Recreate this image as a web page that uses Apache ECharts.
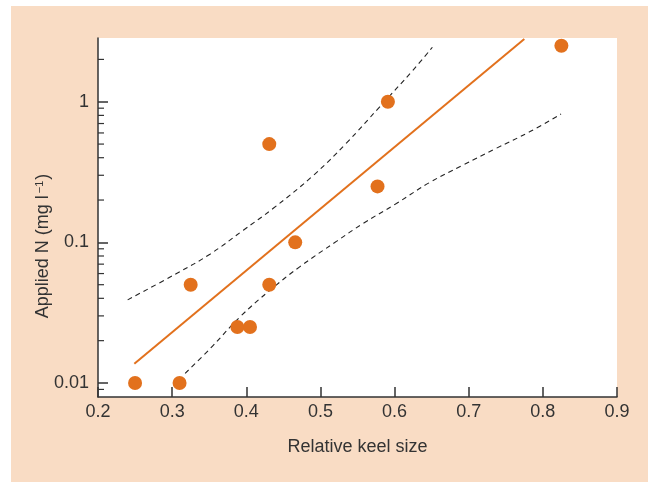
<!DOCTYPE html>
<html><head><meta charset="utf-8">
<script src="https://cdn.jsdelivr.net/npm/echarts@6/dist/echarts.min.js"></script>
<style>
html,body{margin:0;padding:0;background:#fff;}
#wrap{position:relative;width:648px;height:482px;overflow:hidden;}
#bg{position:absolute;left:11px;top:6px;right:0;bottom:0;background:#f9dcc4;}
#chart{position:absolute;left:0;top:0;width:648px;height:482px;}
</style></head><body>
<div id="wrap"><div id="bg"></div><div id="chart"></div></div>
<script>
// Observed points
const keelSize = [0.25, 0.31, 0.325, 0.388, 0.405, 0.431, 0.431, 0.466, 0.577, 0.591, 0.825];
const appliedN = [0.01, 0.01, 0.05, 0.025, 0.025, 0.05, 0.5, 0.1, 0.25, 1.0, 2.5];
// Regression line
const fitX = [0.249, 0.775];
const fitY = [0.0137, 2.79];
// Upper confidence band
const upperX = [0.240, 0.306, 0.351, 0.396, 0.436, 0.490, 0.535, 0.580, 0.625, 0.651];
const upperY = [0.0390, 0.0601, 0.0824, 0.122, 0.174, 0.298, 0.508, 0.921, 1.68, 2.44];
// Lower confidence band
const lowerX = [0.3175, 0.351, 0.3915, 0.432, 0.472, 0.522, 0.5575, 0.6025, 0.647, 0.692, 0.737, 0.782, 0.8245];
const lowerY = [0.0117, 0.0175, 0.0295, 0.0457, 0.067, 0.1020, 0.1363, 0.189, 0.266, 0.354, 0.466, 0.611, 0.818];
// Axes
const xMin = 0.2, xMax = 0.9, xStep = 0.1;
const yMin = 0.00795, yMax = 2.84;
const yMinorTicks = [0.009, 0.02, 0.03, 0.04, 0.05, 0.06, 0.07, 0.08, 0.09,
  0.2, 0.3, 0.4, 0.5, 0.6, 0.7, 0.8, 0.9, 2];

const zip = (a, b) => a.map((v, i) => [v, b[i]]);
const orange = '#e2711d';
const ink = '#333333';
const font = '"Liberation Sans", Arial, sans-serif';

const chart = echarts.init(document.getElementById('chart'), null, {renderer: 'canvas'});
chart.setOption({
  backgroundColor: 'transparent',
  animation: false,
  grid: {left: 98, right: 31, top: 38, bottom: 85, show: true, backgroundColor: '#ffffff', borderWidth: 0},
  xAxis: {
    type: 'value', min: xMin, max: xMax, interval: xStep,
    name: 'Relative keel size', nameLocation: 'middle', nameGap: 41,
    nameTextStyle: {fontFamily: font, fontSize: 18, color: ink},
    axisLine: {show: true, lineStyle: {color: ink, width: 1.5}},
    axisTick: {show: true, inside: true, length: 10, lineStyle: {color: ink, width: 1.5}},
    axisLabel: {fontFamily: font, fontSize: 18, color: ink, margin: 6, formatter: v => v.toFixed(1)},
    splitLine: {show: false}
  },
  yAxis: {
    type: 'log', logBase: 10, min: yMin, max: yMax,
    axisLine: {show: true, lineStyle: {color: ink, width: 1.5}},
    axisTick: {show: true, inside: true, length: 10, lineStyle: {color: ink, width: 1.5}},
    axisLabel: {fontFamily: font, fontSize: 18, color: ink, margin: 9, showMinLabel: false, showMaxLabel: false,
      formatter: v => String(+v.toPrecision(3))},
    splitLine: {show: false}
  },
  graphic: [{
    type: 'text', x: 43, y: 246, rotation: Math.PI / 2,
    style: {
      text: 'Applied N (mg l{sup|−1})', fill: ink, font: '18px ' + font,
      align: 'center', verticalAlign: 'middle',
      rich: {sup: {fontSize: 11, fontFamily: font, fill: ink, verticalAlign: 'top', padding: [0, 1, 7, 2]}}
    }
  }],
  series: [
    {
      type: 'custom', silent: true, z: 5,
      data: yMinorTicks.map(v => [xMin, v]),
      renderItem: (params, api) => {
        const p = api.coord([api.value(0), api.value(1)]);
        return {type: 'line', shape: {x1: p[0], y1: p[1], x2: p[0] + 6, y2: p[1]},
          style: {stroke: ink, lineWidth: 1.2}};
      }
    },
    {
      type: 'line', data: zip(upperX, upperY), showSymbol: false, symbol: 'none', z: 3, smooth: 0.4,
      lineStyle: {color: '#222', width: 1.1, type: [5, 4]}
    },
    {
      type: 'line', data: zip(lowerX, lowerY), showSymbol: false, symbol: 'none', z: 3, smooth: 0.4,
      lineStyle: {color: '#222', width: 1.1, type: [5, 4]}
    },
    {
      type: 'line', data: zip(fitX, fitY), showSymbol: false, symbol: 'none', z: 4,
      lineStyle: {color: orange, width: 2}
    },
    {
      type: 'scatter', data: zip(keelSize, appliedN), symbol: 'circle', symbolSize: 14, z: 6,
      itemStyle: {color: orange, opacity: 1}
    }
  ]
});
</script>
</body></html>
